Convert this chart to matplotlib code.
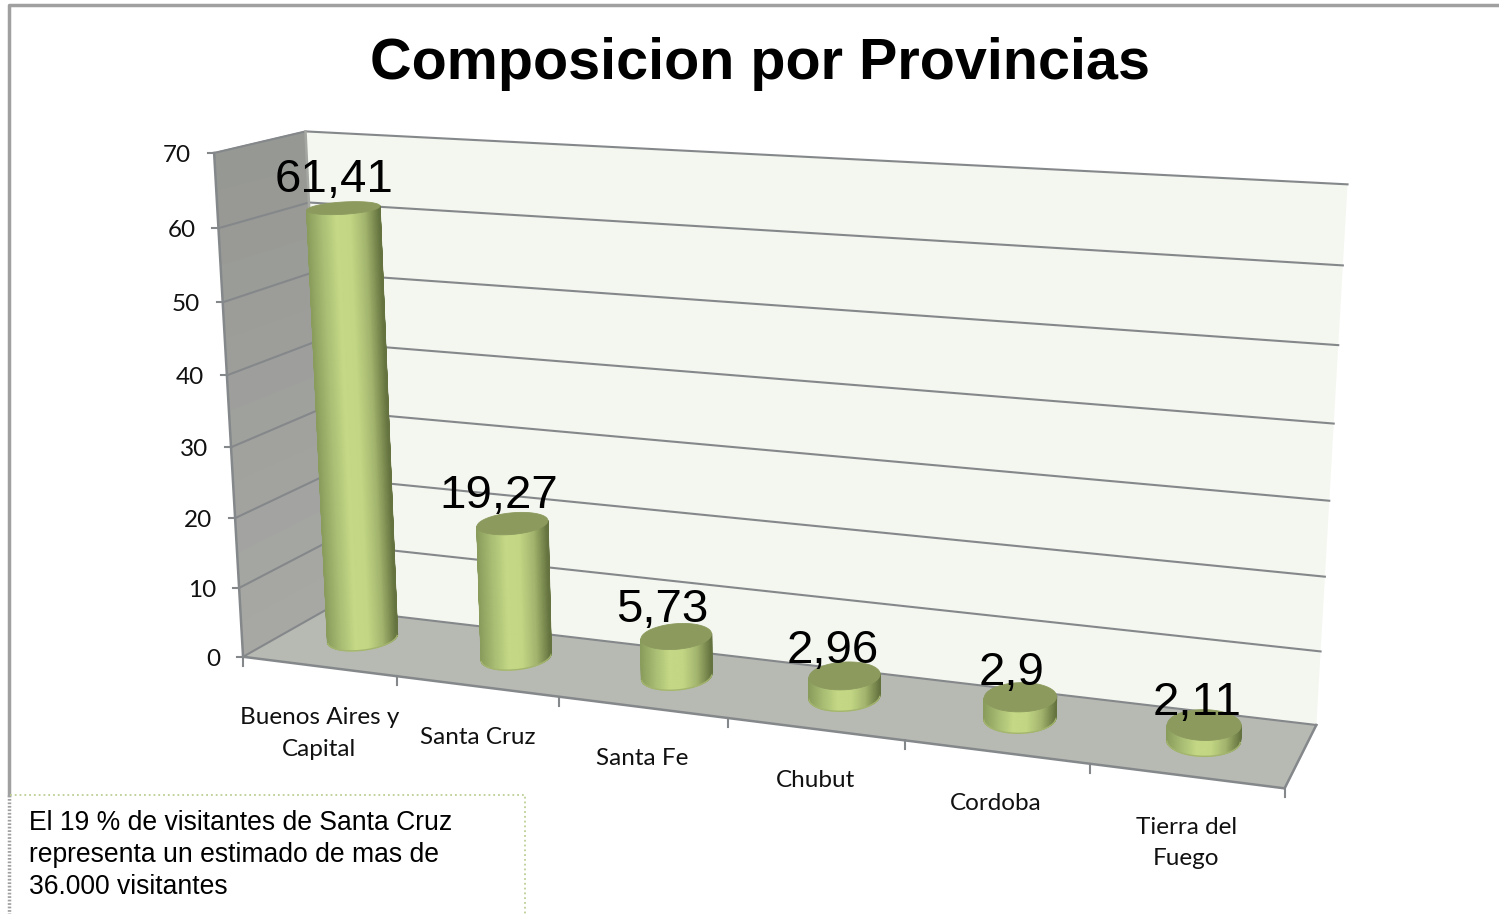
import numpy as np
import matplotlib
matplotlib.use('Agg')
import matplotlib.pyplot as plt
from matplotlib.colors import LinearSegmentedColormap

categorias = ['Buenos Aires y\nCapital', 'Santa Cruz', 'Santa Fe', 'Chubut', 'Cordoba', 'Tierra del\nFuego']
valores = [61.41, 19.27, 5.73, 2.96, 2.9, 2.11]
etiquetas = ['61,41', '19,27', '5,73', '2,96', '2,9', '2,11']
y_ticks = [0, 10, 20, 30, 40, 50, 60, 70]
titulo = 'Composicion por Provincias'
nota = 'El 19 % de visitantes de Santa Cruz\nrepresenta un estimado de mas de\n36.000 visitantes'

# perspective box: world (category, depth, value) -> pixel, fitted on the box corners and ticks
box_world = [(0, 0, 0), (0, 0, 70), (0, 1, 0), (0, 1, 70), (6, 1, 0), (6, 1, 70), (6, 0, 0),
             (1, 0, 0), (2, 0, 0), (3, 0, 0), (4, 0, 0), (5, 0, 0),
             (0, 0, 30), (0, 0, 60), (6, 1, 30), (6, 1, 60)]
box_pixel = [(245, 655), (213, 154), (327, 612), (307, 130), (1316, 722), (1347, 185), (1285, 790),
             (398, 675), (558, 696), (727, 718), (905, 741), (1090, 765),
             (231, 447), (218, 228), (1330, 500), (1343, 266)]

rows = []
for (s, d, v), (px, py) in zip(box_world, box_pixel):
    w = [s / 6, d, v / 70, 1]
    u, t = px / 1000, py / 1000
    rows.append(w + [0, 0, 0, 0] + [-u * c for c in w])
    rows.append([0, 0, 0, 0] + w + [-t * c for c in w])
P = np.linalg.svd(np.array(rows))[2][-1].reshape(3, 4)


def project(s, d, v):
    s, d, v = np.broadcast_arrays(np.asarray(s, float), np.asarray(d, float), np.asarray(v, float))
    w = np.stack([s / 6, d, v / 70, np.ones_like(s)])
    a = P @ w
    return a[0] / a[2] * 1000, a[1] / a[2] * 1000


fig = plt.figure(figsize=(14.99, 9.14), dpi=100)
ax = fig.add_axes([0, 0, 1, 1])
ax.set_xlim(0, 1499)
ax.set_ylim(914, 0)
ax.axis('off')

plt.rcParams['font.family'] = ['Liberation Sans', 'DejaVu Sans']
grey = '#85888a'


def quad(a, b, c, e, color, z):
    xs, ys = project(*np.array([a, b, c, e]).T)
    ax.fill(xs, ys, color=color, lw=0, zorder=z)


# walls and floor
quad((0, 1, 0), (6, 1, 0), (6, 1, 70), (0, 1, 70), '#f4f7ef', 1)
for v0 in np.arange(0, 70, 5):
    c = 0.655 - 0.07 * v0 / 70
    quad((0, 0, v0), (0, 1, v0), (0, 1, v0 + 5.1), (0, 0, v0 + 5.1), (c, c + 0.005, c - 0.01), 1)
quad((0, 0, 0), (6, 0, 0), (6, 1, 0), (0, 1, 0), '#b7bab3', 1)

# gridlines
for v in y_ticks:
    xs, ys = project([0, 0, 6], [0, 1, 1], [v, v, v])
    ax.plot(xs, ys, color=grey, lw=1.5, zorder=2)
    x0, y0 = project(0, 0, v)
    ax.plot([x0 - 6, x0], [y0, y0], color=grey, lw=1.5, zorder=2)
    ax.text(x0 - 23, y0 + 2.5, str(v), ha='right', va='center', fontsize=17.5, family='Lato', color='#111111')

# axis edges and category ticks
for a, b in [((0, 0, 0), (0, 0, 70)), ((0, 1, 0), (0, 1, 70)), ((0, 0, 0), (6, 0, 0)), ((6, 0, 0), (6, 1, 0))]:
    xs, ys = project(*np.array([a, b]).T)
    ax.plot(xs, ys, color=grey if a[1] == 0 else '#a5a8a2', lw=1.8, zorder=2)
for i in range(len(categorias) + 1):
    x0, y0 = project(i, 0, 0)
    ax.plot([x0, x0], [y0, y0 + 9], color=grey, lw=1.5, zorder=2)

# cylinders
cmap = LinearSegmentedColormap.from_list('cil', ['#8a9d5c', '#a9bd74', '#c4d886', '#c2d684', '#a3b56e', '#64733f'])
ang = np.linspace(0, 2 * np.pi, 241)
rs, rd = 0.19, 0.245
off_s, off_d = 0.48, 0.55
label_dx = [-9, -14, -14, -12, -9, -7]
label_dy = [-28, -27, -26, -25, -24, -22]
for i, v in enumerate(valores):
    bx, by = project(i + off_s + rs * np.cos(ang), off_d + rd * np.sin(ang), 0)
    tx, ty = project(i + off_s + rs * np.cos(ang), off_d + rd * np.sin(ang), v)
    # front half of the wall runs between the leftmost and rightmost base points
    left, right = np.argmin(bx[:-1]), np.argmax(bx[:-1])
    idx = np.arange(right, right + 241) % 240
    idx = idx[:np.where(idx == left)[0][0] + 1]
    if by[idx].mean() < by[:-1].mean():
        idx = np.arange(left, left + 241) % 240
        idx = idx[:np.where(idx == right)[0][0] + 1]
    if bx[idx[0]] > bx[idx[-1]]:
        idx = idx[::-1]
    f = (bx[idx] - bx[left]) / (bx[right] - bx[left])
    ax.fill(bx, by, color='#a9bd74', lw=0, zorder=3)
    frac = np.linspace(0, 1, 16)[:, None]
    ax.pcolormesh(bx[idx] + frac * (tx[idx] - bx[idx]), by[idx] + frac * (ty[idx] - by[idx]),
                  np.tile(f, (16, 1)), cmap=cmap, vmin=0, vmax=1, shading='gouraud', zorder=3)
    ax.plot(bx[idx], by[idx], color='#a3b56e', lw=1, zorder=3)
    ax.plot([bx[left], tx[left]], [by[left], ty[left]], color='#8a9d5c', lw=1, zorder=3)
    ax.plot([bx[right], tx[right]], [by[right], ty[right]], color='#64733f', lw=1, zorder=3)
    ax.fill(tx, ty, color='#8c9a5e', lw=0.6, zorder=4)

    cx, cy = project(i + off_s, off_d, v)
    ax.text(cx + label_dx[i], cy + label_dy[i], etiquetas[i], ha='center', va='center', fontsize=34.2,
            color='black', zorder=6)
    lx, ly = project(i + 0.5, 0, 0)
    ax.text(lx, ly + 41, categorias[i], ha='center', va='top', fontsize=17.5, family='Lato',
            color='#111111', linespacing=1.6, zorder=6)

ax.text(760, 64, titulo, ha='center', va='center', fontsize=41.4, fontweight='bold', color='black')

# outer frame and note box
ax.plot([9.5, 9.5, 1499], [795, 5, 5], color='#a0a0a0', lw=2.5, zorder=5)
ax.plot([9.5, 9.5], [795, 914], color='#a0a0a0', lw=2.5, ls=(0, (0.5, 0.5)), zorder=5)
ax.plot([10, 525.5, 525.5], [795, 795, 914], color='#bccf94', lw=1.3, ls=':', zorder=5)
ax.text(29, 855, nota, ha='left', va='center', fontsize=19.1, color='black', linespacing=1.3, zorder=6)

fig.savefig('out.png', dpi=100)
